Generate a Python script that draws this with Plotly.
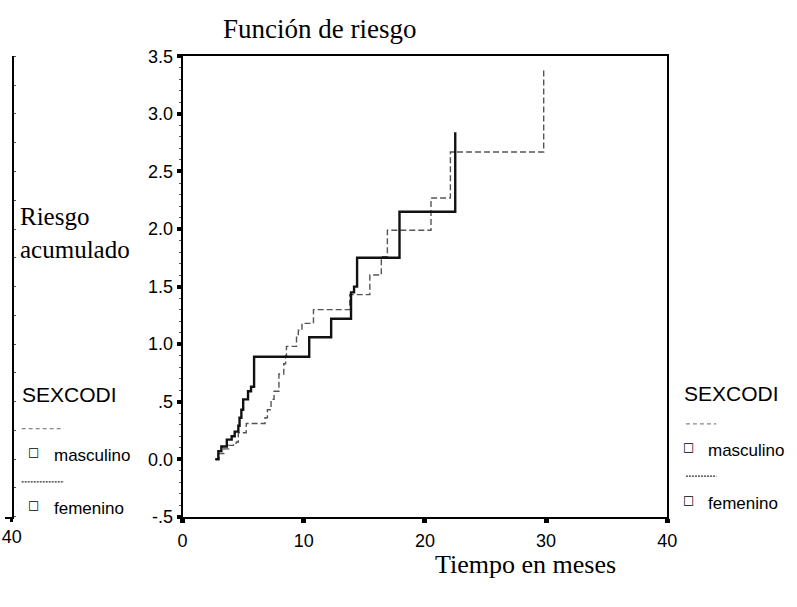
import plotly.graph_objects as go

# ---------------- data ----------------
# femenino (solid, darker step line)
fem_t = [2.7, 2.95, 3.2, 3.65, 4.05, 4.3, 4.6, 4.7, 4.85, 5.0, 5.4, 5.65, 5.9,
         10.45, 12.26, 13.9, 14.15, 14.4, 17.9, 22.5]
fem_h = [0.0, 0.07, 0.11, 0.17, 0.20, 0.24, 0.29, 0.36, 0.43, 0.52, 0.59, 0.63, 0.89,
         1.06, 1.22, 1.45, 1.50, 1.75, 2.15, 2.84]

# masculino (dashed, lighter step line)
masc_t = [2.7, 3.0, 3.4, 3.8, 4.2, 4.45, 4.6, 5.25, 6.8, 7.0, 7.3, 7.55, 7.95, 8.35,
          8.5, 8.57, 9.4, 9.55, 9.85, 10.8, 13.8, 15.45, 16.4, 16.9, 20.5, 22.1, 29.8]
masc_h = [0.0, 0.05, 0.09, 0.12, 0.14, 0.15, 0.23, 0.31, 0.36, 0.43, 0.52, 0.59, 0.74, 0.83,
          0.90, 0.98, 1.06, 1.12, 1.18, 1.30, 1.43, 1.60, 1.76, 1.99, 2.27, 2.67, 3.38]

x_ticks = [0, 10, 20, 30, 40]
x_ticktext = ["0", "10", "20", "30", "40"]
y_ticks = [-0.5, 0, 0.5, 1, 1.5, 2, 2.5, 3, 3.5]
y_ticktext = ["-.5", "0.0", ".5", "1.0", "1.5", "2.0", "2.5", "3.0", "3.5"]

title_text = "Función de riesgo"
ylab = "Riesgo<br>acumulado"
xlab = "Tiempo en meses"
legend_title = "SEXCODI"
groups = ["masculino", "femenino"]

# ---------------- layout helpers ----------------
W, H = 797, 607
def fx(p):
    return p / W
def fy(p):
    return 1 - p / H

SANS = "Liberation Sans, Arial, sans-serif"
SERIF = "Liberation Serif, Times New Roman, serif"
INK = "#000000"

fig = go.Figure()
fig.add_trace(go.Scatter(x=masc_t, y=masc_h, mode="lines", name=groups[0],
                         line=dict(shape="hv", color="#555555", width=1.4, dash="6px,3px")))
fig.add_trace(go.Scatter(x=fem_t, y=fem_h, mode="lines", name=groups[1],
                         line=dict(shape="hv", color="#111111", width=2.4)))
# empty trace registering the partial left panel
fig.add_trace(go.Scatter(x=[], y=[], xaxis="x2", yaxis="y2", showlegend=False))

axis_common = dict(showline=True, linecolor=INK, linewidth=2, showgrid=False,
                   zeroline=False, ticks="outside", tickcolor=INK,
                   tickfont=dict(family=SANS, size=18, color=INK))

fig.update_layout(
    width=W, height=H, autosize=False,
    margin=dict(l=0, r=0, t=0, b=0),
    paper_bgcolor="white", plot_bgcolor="white",
    showlegend=False,
    xaxis=dict(domain=[fx(181), fx(675)], range=[0, 40], tickvals=x_ticks,
               ticktext=x_ticktext, mirror=True, ticklen=4, tickwidth=5,
               ticklabelstandoff=3, anchor="y", **axis_common),
    yaxis=dict(domain=[fy(524), fy(48)], range=[-0.5, 3.5], tickvals=y_ticks,
               ticktext=y_ticktext, mirror=True, ticklen=4, tickwidth=4,
               anchor="x",
               minor=dict(dtick=0.1, ticklen=2, tickwidth=1, tickcolor="#555", ticks="outside"),
               **axis_common),
    xaxis2=dict(domain=[0, fx(7)], range=[0, 40], tickvals=[40], ticktext=["40"],
                anchor="y2", ticklen=3, tickwidth=3, **axis_common),
    yaxis2=dict(domain=[fy(524), fy(48)], range=[-0.5, 3.5], anchor="x2", side="right",
                tickvals=[v / 4 for v in range(-2, 15)], showticklabels=False,
                showline=True, linecolor=INK, linewidth=2, showgrid=False, zeroline=False,
                ticks="outside", ticklen=2, tickwidth=1, tickcolor="#555"),
)

ann = []
def text(x, y, s, size, family, anchor="left", color=INK):
    ann.append(dict(x=fx(x), y=fy(y), xref="paper", yref="paper", text=s,
                    showarrow=False, xanchor=anchor, yanchor="middle", align="left",
                    font=dict(family=family, size=size, color=color)))

text(321, 20, title_text, 27, SERIF, "center")
text(13, 231, ylab, 25, SERIF)
text(530, 573, xlab, 26, SERIF, "center")

# left legend (from the neighbouring panel)
text(15, 398, legend_title, 21, SANS)
text(29, 457, "□", 12, "DejaVu Sans", "center")
text(48, 461, groups[0], 17, SANS)
text(29, 512, "□", 12, "DejaVu Sans", "center")
text(48, 516, groups[1], 17, SANS)
# right legend
text(690, 397, legend_title, 21, SANS)
text(697, 452, "□", 12, "DejaVu Sans", "center")
text(714, 455, groups[0], 17, SANS)
text(697, 507, "□", 12, "DejaVu Sans", "center")
text(714, 510, groups[1], 17, SANS)
fig.update_layout(annotations=ann)

shapes = []
def sample(x0, x1, y, style):
    if style == "m":
        line = dict(color="#6a6a6a", width=1, dash="4px,3px")
    else:
        line = dict(color="#333", width=1.3, dash="2px,1px")
    shapes.append(dict(type="line", xref="paper", yref="paper", x0=fx(x0), x1=fx(x1),
                       y0=fy(y), y1=fy(y), line=line))
sample(17, 60, 433, "m")
sample(17, 60, 488, "f")
sample(694, 725, 428, "m")
sample(694, 725, 482, "f")
fig.update_layout(shapes=shapes)

fig.write_html("out.html")
